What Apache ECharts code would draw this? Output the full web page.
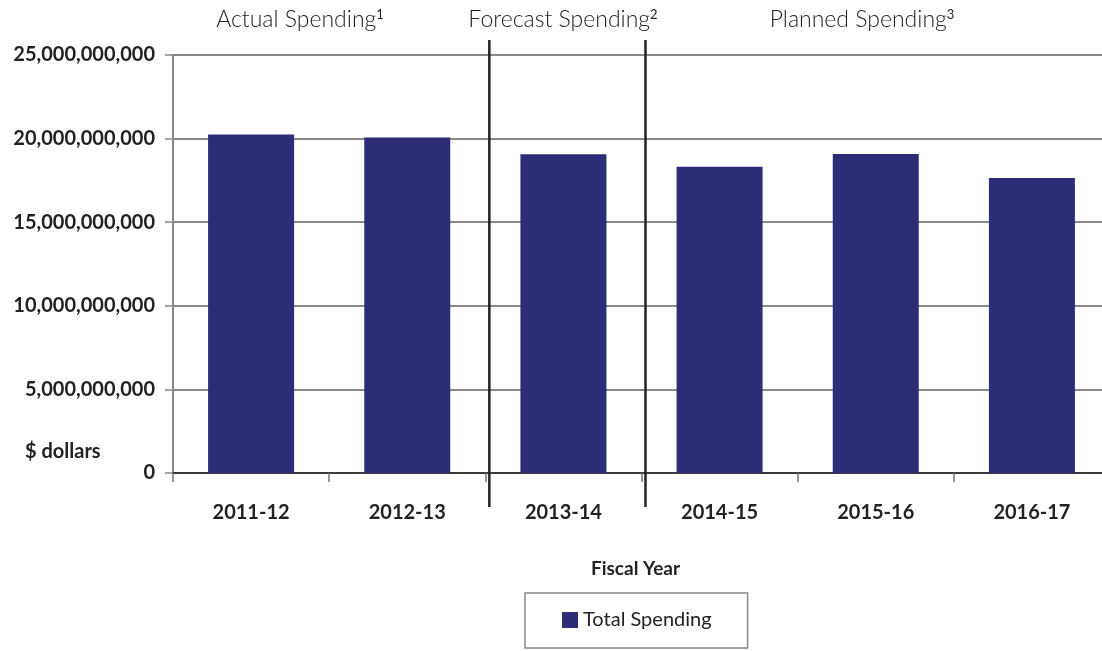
<!DOCTYPE html>
<html>
<head>
<meta charset="utf-8">
<script src="https://cdn.jsdelivr.net/npm/echarts@6/dist/echarts.min.js"></script>
<style>html,body{margin:0;padding:0;background:#fff;overflow:hidden}#c{width:1110px;height:651px}</style>
</head>
<body>
<div id="c"></div>
<script>
const categories = ['2011-12', '2012-13', '2013-14', '2014-15', '2015-16', '2016-17'];
const totalSpending = [20250000000, 20070000000, 19060000000, 18320000000, 19080000000, 17640000000];
const yTicks = [0, 5000000000, 10000000000, 15000000000, 20000000000, 25000000000];
const seriesName = 'Total Spending';
const periodLabels = [
  { text: 'Actual Spending', sup: '1' },
  { text: 'Forecast Spending', sup: '2' },
  { text: 'Planned Spending', sup: '3' }
];
const dividerAfter = [1, 2]; // dividers after these category indices

const FONT = 'Lato';
const chart = echarts.init(document.getElementById('c'), null, { renderer: 'canvas' });

const option = {
  backgroundColor: '#fff',
  animation: false,
  textStyle: { fontFamily: FONT },
  grid: { left: 173, top: 55, right: 0, bottom: 178, containLabel: false },
  xAxis: {
    type: 'category',
    data: categories,
    name: 'Fiscal Year',
    nameLocation: 'middle',
    nameGap: 86,
    nameTextStyle: { fontFamily: FONT, fontWeight: 'bold', fontSize: 19, color: '#222', padding: [0, 12, 0, 0] },
    axisLine: { lineStyle: { color: '#222', width: 1.5 } },
    axisTick: { show: true, alignWithLabel: false, length: 9, lineStyle: { color: '#777', width: 1.5 } },
    axisLabel: { fontFamily: FONT, fontWeight: 'bold', fontSize: 20, color: '#222', margin: 30 }
  },
  yAxis: {
    type: 'value',
    min: yTicks[0],
    max: yTicks[yTicks.length - 1],
    interval: yTicks[1] - yTicks[0],
    axisLine: { show: true, lineStyle: { color: '#888', width: 2 } },
    axisTick: { show: true, length: 8, lineStyle: { color: '#888', width: 1.5 } },
    splitLine: { show: true, lineStyle: { color: '#888', width: 2 } },
    axisLabel: {
      fontFamily: FONT, fontWeight: 'bold', fontSize: 20, color: '#222', margin: 18,
      formatter: v => v.toLocaleString('en-US')
    }
  },
  legend: {
    left: 525, top: 593,
    data: [seriesName],
    icon: 'rect', itemWidth: 16, itemHeight: 16, itemGap: 0,
    borderColor: '#888', borderWidth: 1.5,
    padding: [17, 36, 18, 37],
    textStyle: { fontFamily: FONT, fontSize: 20, color: '#222', padding: [0, 0, 0, 0] }
  },
  series: [{
    name: seriesName,
    type: 'bar',
    data: totalSpending,
    barWidth: 86,
    itemStyle: { color: '#2d2c76' }
  }]
};
chart.setOption(option);

// Annotations positioned from the axis scales
const yTopPx = chart.convertToPixel({ yAxisIndex: 0 }, yTicks[yTicks.length - 1]);
const yZeroPx = chart.convertToPixel({ yAxisIndex: 0 }, 0);
const graphics = [];
dividerAfter.forEach(i => {
  const a = chart.convertToPixel({ xAxisIndex: 0 }, categories[i]);
  const b = chart.convertToPixel({ xAxisIndex: 0 }, categories[i + 1]);
  const x = (a + b) / 2 + 4;
  graphics.push({
    type: 'line', shape: { x1: x, y1: yTopPx - 15, x2: x, y2: yZeroPx + 34 },
    style: { stroke: '#222', lineWidth: 2.5 }, z: 100
  });
});
const labelX = [300, 563, 862];
periodLabels.forEach((p, i) => {
  graphics.push({
    type: 'text', x: labelX[i], y: 20,
    style: {
      text: '{a|' + p.text + '}{s|' + p.sup + '}',
      align: 'center', verticalAlign: 'middle',
      rich: {
        a: { fontFamily: FONT, fontSize: 23, fill: '#222', fontWeight: 300 },
        s: { fontFamily: FONT, fontSize: 13, fill: '#222', padding: [0, 0, 11, 0] }
      }
    }
  });
});
graphics.push({
  type: 'text', x: 25, y: 452,
  style: { text: '$ dollars', fontFamily: FONT, fontSize: 20, fontWeight: 'bold', fill: '#222', verticalAlign: 'middle' }
});
chart.setOption({ graphic: graphics });
</script>
</body>
</html>
